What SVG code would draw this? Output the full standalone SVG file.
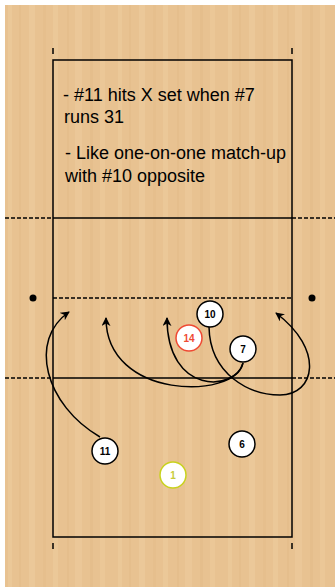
<svg xmlns="http://www.w3.org/2000/svg" width="335" height="588" viewBox="0 0 335 588">
<defs>
<pattern id="wood" x="5" y="5" width="110" height="120" patternUnits="userSpaceOnUse">
<rect width="110" height="120" fill="#e8c291"/>
<rect x="3" y="0" width="4" height="120" fill="#edcb9c" opacity="0.6"/>
<rect x="14" y="0" width="2" height="120" fill="#dfb682" opacity="0.35"/>
<rect x="24" y="0" width="6" height="120" fill="#efcfa3" opacity="0.45"/>
<rect x="38" y="0" width="3" height="120" fill="#e1b985" opacity="0.35"/>
<rect x="48" y="0" width="5" height="120" fill="#eecda0" opacity="0.5"/>
<rect x="62" y="0" width="2" height="120" fill="#dfb682" opacity="0.35"/>
<rect x="70" y="0" width="7" height="120" fill="#efcfa3" opacity="0.4"/>
<rect x="85" y="0" width="3" height="120" fill="#e0b784" opacity="0.35"/>
<rect x="95" y="0" width="5" height="120" fill="#eecc9e" opacity="0.5"/>
</pattern>
<marker id="ah" viewBox="0 0 10 10" refX="9" refY="5" markerWidth="9" markerHeight="9" markerUnits="userSpaceOnUse" orient="auto">
<path d="M0,0 L10,5 L0,10 L3,5 z" fill="#000"/>
</marker>
<style>
.line{stroke:#000;stroke-width:1.5;fill:none}
.dash{stroke:#000;stroke-width:1.3;fill:none;stroke-dasharray:4,2}
.txt{font-family:"Liberation Sans",Arial,sans-serif;font-size:18px;fill:#000}
.pc{fill:#fff;stroke:#000;stroke-width:1.5}
.pt{font-family:"Liberation Sans",Arial,sans-serif;font-size:10px;font-weight:bold;text-anchor:middle;fill:#000}
.conn{stroke:#000;stroke-width:1.5;fill:none;marker-end:url(#ah)}
</style>
</defs>
<rect width="335" height="588" fill="#fff"/>
<rect x="5" y="5" width="330" height="582" fill="url(#wood)"/>
<g id="court">
<rect x="53" y="60" width="239" height="477" class="line"/>
<line x1="53" y1="48" x2="53" y2="54" class="line"/>
<line x1="292" y1="48" x2="292" y2="54" class="line"/>
<line x1="53" y1="543" x2="53" y2="549" class="line"/>
<line x1="292" y1="543" x2="292" y2="549" class="line"/>
<line x1="53" y1="218" x2="292" y2="218" class="line"/>
<line x1="5" y1="218" x2="53" y2="218" class="dash"/>
<line x1="292" y1="218" x2="335" y2="218" class="dash"/>
<line x1="53" y1="378" x2="292" y2="378" class="line"/>
<line x1="5" y1="378" x2="53" y2="378" class="dash"/>
<line x1="292" y1="378" x2="335" y2="378" class="dash"/>
<line x1="53" y1="298" x2="292" y2="298" class="dash"/>
<circle cx="33" cy="298" r="3.5" fill="#000"/>
<circle cx="312" cy="298" r="3.5" fill="#000"/>
</g>
<g id="notes">
<text class="txt" x="63" y="101">- #11 hits X set when #7</text>
<text class="txt" x="64" y="123">runs 31</text>
<text class="txt" x="65" y="159">- Like one-on-one match-up</text>
<text class="txt" x="65" y="182">with #10 opposite</text>
</g>
<g id="connectors">
<path class="conn" d="M100,437 C45,405 28,340 69,312"/>
<path class="conn" d="M243,363 C235,400 106,400 106,318"/>
<path class="conn" d="M243,363 C235,392 167,395 167,318"/>
<path class="conn" d="M209,327 C210,375 250,395 280,395 C315,395 325,350 276,313"/>
</g>
<g id="p10"><circle class="pc" cx="210" cy="314" r="13"/><text class="pt" x="210" y="317.5">10</text></g>
<g id="p14"><circle cx="189" cy="338" r="13" fill="#fff" stroke="#ef4a34" stroke-width="1.5"/><text class="pt" x="189" y="341.5" style="fill:#ef4a34">14</text></g>
<g id="p7"><circle class="pc" cx="243" cy="349" r="13"/><text class="pt" x="243" y="352.5">7</text></g>
<g id="p11"><circle class="pc" cx="105" cy="451" r="13"/><text class="pt" x="105" y="454.5">11</text></g>
<g id="p6"><circle class="pc" cx="242" cy="444" r="13"/><text class="pt" x="242" y="447.5">6</text></g>
<g id="p1"><circle cx="173" cy="475" r="13" fill="#fff" stroke="#c8d21e" stroke-width="1.5"/><text class="pt" x="173" y="478.5" style="fill:#c8cc3a">1</text></g>
</svg>
